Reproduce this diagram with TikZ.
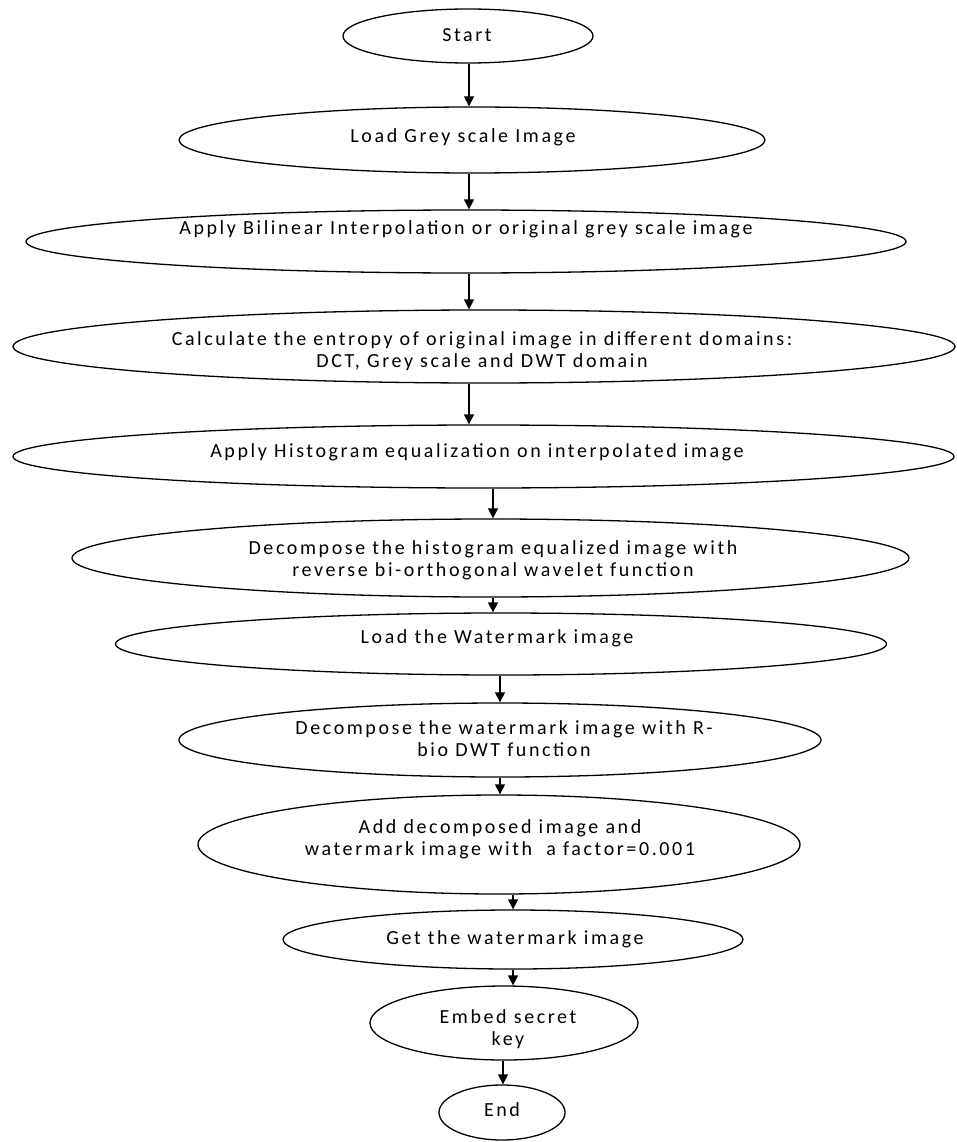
\documentclass[tikz,border=0pt]{standalone}
\usepackage{fontspec}
\setmainfont[LetterSpace=13]{Carlito}
\usetikzlibrary{shapes.geometric,arrows.meta}
\begin{document}
\begin{tikzpicture}[x=1pt,y=-1pt,
  stage/.style={draw, ellipse, line width=1.3pt, inner sep=0pt},
  caption/.style={inner sep=0pt, align=center, font=\fontsize{20}{22}\selectfont},
  flow/.style={line width=1.3pt, -{Triangle[length=10pt,width=10pt]}}
]
\useasboundingbox (0,0) rectangle (956,1142);

% process stages
\node[stage, minimum width=250pt, minimum height=54pt] (start) at (468,36) {};
\node[stage, minimum width=586pt, minimum height=66pt] (load)  at (472,140) {};
\node[stage, minimum width=880pt, minimum height=63pt] (bil)   at (466,241.5) {};
\node[stage, minimum width=942pt, minimum height=73pt] (calc)  at (484,346.5) {};
\node[stage, minimum width=941pt, minimum height=63pt] (hist)  at (483.5,456.5) {};
\node[stage, minimum width=837pt, minimum height=78pt] (dech)  at (490.5,558) {};
\node[stage, minimum width=771pt, minimum height=62pt] (loadw) at (501,644) {};
\node[stage, minimum width=642pt, minimum height=74pt] (decw)  at (500,740) {};
\node[stage, minimum width=602pt, minimum height=99pt] (add)   at (499,844.5) {};
\node[stage, minimum width=460pt, minimum height=59pt] (get)   at (513,939.5) {};
\node[stage, minimum width=268pt, minimum height=74pt] (embed) at (504,1023) {};
\node[stage, minimum width=126pt, minimum height=55pt] (stop)  at (502,1112.5) {};

% stage texts
\node[caption] (tstart) at (467,35) {Start};
\node[caption] (tload)  at (463,137) {Load Grey scale Image};
\node[caption] (tbil)   at (466,229) {Apply Bilinear Interpolation or original grey scale image};
\node[caption] (tcalc)  at (482,351) {Calculate the entropy of original image in different domains:\\DCT, Grey scale and DWT domain};
\node[caption] (thist)  at (477,452) {Apply Histogram equalization on interpolated image};
\node[caption] (tdech)  at (493,560) {Decompose the histogram equalized image with\\reverse bi-orthogonal wavelet function};
\node[caption] (tloadw) at (497,638) {Load the Watermark image};
\node[caption] (tdecw)  at (504,739) {Decompose the watermark image with R-\\bio DWT function};
\node[caption] (tadd)   at (500,839.5) {Add decomposed image and\\watermark image with\ \ a factor=0.001};
\node[caption] (tget)   at (515,939) {Get the watermark image};
\node[caption] (tembed) at (508,1029) {Embed secret\\key};
\node[caption] (tstop)  at (502,1110) {End};

% arrow columns
\coordinate (c1) at (469,0);
\coordinate (c2) at (493,0);
\coordinate (c3) at (500,0);
\coordinate (c4) at (513,0);
\coordinate (c5) at (503,0);

\draw[flow] (start.south -| c1) -- (load.north -| c1);
\draw[flow] (load.south -| c1)  -- (bil.north -| c1);
\draw[flow] (bil.south -| c1)   -- (calc.north -| c1);
\draw[flow] (calc.south -| c1)  -- (hist.north -| c1);
\draw[flow] (hist.south -| c2)  -- (dech.north -| c2);
\draw[flow] (dech.south -| c2)  -- (loadw.north -| c2);
\draw[flow] (loadw.south -| c3) -- (decw.north -| c3);
\draw[flow] (decw.south -| c3)  -- (add.north -| c3);
\draw[flow] (add.south -| c4)   -- (get.north -| c4);
\draw[flow] (get.south -| c4)   -- (embed.north -| c4);
\draw[flow] (embed.south -| c5) -- (stop.north -| c5);
\end{tikzpicture}
\end{document}
